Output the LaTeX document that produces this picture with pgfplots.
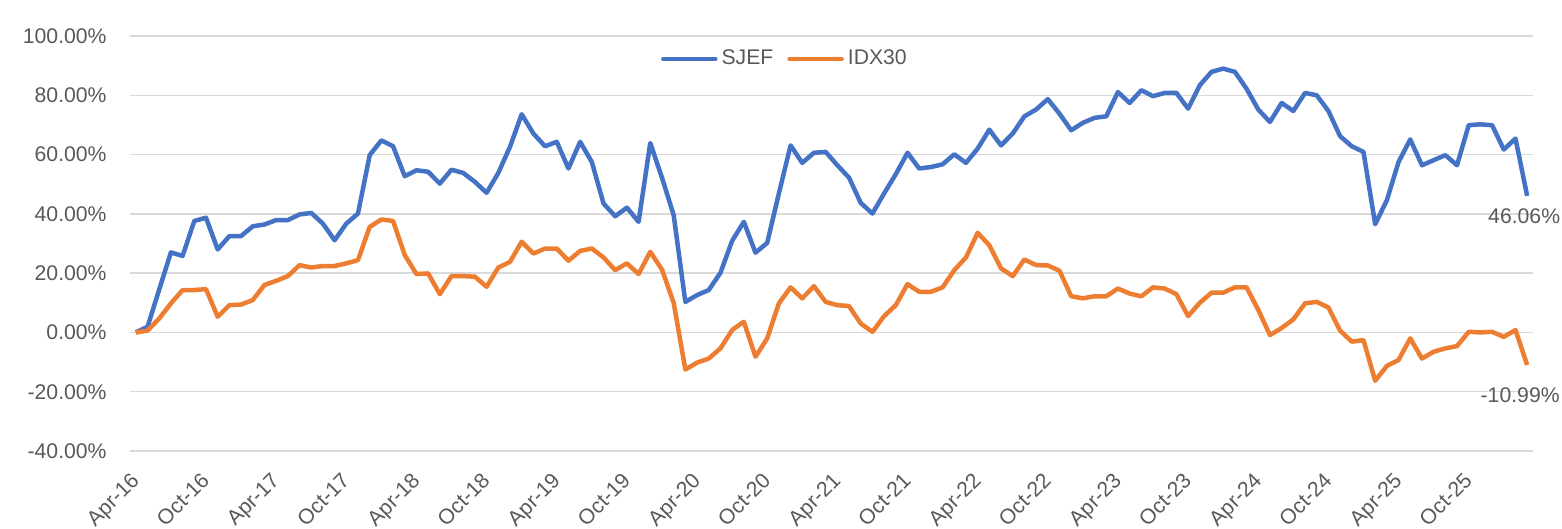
\documentclass[border=0pt]{standalone}
\usepackage{pgfplots}
\pgfplotsset{compat=1.18}
\usepackage{pgfplotstable}
\usepackage{fontspec}
\setmainfont{Liberation Sans}
\definecolor{sjef}{HTML}{4472C4}
\definecolor{idx}{HTML}{ED7D31}
\definecolor{gridc}{HTML}{D9D9D9}
\definecolor{txt}{HTML}{595959}

\pgfplotstableread{
i sjef idx
0 0 0
1 1.9 0.6
2 14.5 4.7
3 27.0 9.8
4 25.8 14.3
5 37.6 14.3
6 38.7 14.6
7 28.0 5.3
8 32.5 9.2
9 32.5 9.4
10 35.8 10.9
11 36.4 16.0
12 37.9 17.4
13 37.9 19.0
14 39.8 22.7
15 40.3 21.9
16 36.7 22.4
17 31.1 22.4
18 36.7 23.3
19 40.1 24.4
20 59.8 35.6
21 64.8 38.1
22 62.8 37.6
23 52.7 26.1
24 54.7 19.7
25 54.2 19.9
26 50.2 12.9
27 54.9 19.0
28 53.8 19.0
29 50.8 18.8
30 47.1 15.4
31 53.8 21.9
32 62.6 23.8
33 73.6 30.6
34 67.1 26.6
35 62.8 28.3
36 64.3 28.3
37 55.3 24.2
38 64.3 27.5
39 57.5 28.3
40 43.5 25.3
41 39.2 21.0
42 42.1 23.3
43 37.3 19.7
44 63.9 27.2
45 52.2 21.2
46 39.6 10.0
47 10.3 -12.5
48 12.6 -10.2
49 14.3 -8.8
50 20.1 -5.4
51 30.9 0.8
52 37.3 3.6
53 26.9 -8.2
54 30.2 -2.0
55 46.9 9.8
56 63.1 15.2
57 57.2 11.5
58 60.6 15.6
59 60.9 10.3
60 56.4 9.2
61 52.2 8.9
62 43.7 3.0
63 40.1 0.2
64 46.9 5.5
65 53.4 9.2
66 60.6 16.3
67 55.3 13.7
68 55.8 13.7
69 56.7 15.2
70 60.1 21.0
71 57.2 25.3
72 62.0 33.6
73 68.4 29.4
74 63.1 21.6
75 67.1 19.0
76 72.9 24.6
77 75.2 22.7
78 78.7 22.6
79 73.8 20.8
80 68.2 12.2
81 70.7 11.5
82 72.4 12.2
83 72.9 12.2
84 81.1 14.8
85 77.4 13.1
86 81.7 12.2
87 79.7 15.2
88 80.8 14.8
89 80.8 12.9
90 75.5 5.5
91 83.4 10.0
92 87.9 13.4
93 89.0 13.4
94 87.9 15.2
95 82.2 15.2
96 75.2 7.6
97 71.0 -0.9
98 77.4 1.5
99 74.7 4.4
100 80.8 9.8
101 80.0 10.3
102 74.7 8.4
103 66.2 0.6
104 62.8 -3.1
105 60.9 -2.6
106 36.5 -16.3
107 44.6 -11.3
108 57.5 -9.3
109 65.1 -2.0
110 56.4 -8.8
111 58.1 -6.5
112 59.8 -5.4
113 56.4 -4.6
114 69.9 0.2
115 70.2 0.0
116 69.9 0.2
117 61.7 -1.5
118 65.4 0.8
119 46.06 -10.99
}\data

\begin{document}
\begin{tikzpicture}
\begin{axis}[
  scale only axis, width=701.5pt, height=207.5pt,
  xmin=-0.5, xmax=119.5, ymin=-40, ymax=100,
  clip=false,
  axis line style={draw=none},
  major tick length=0pt,
  ymajorgrids, grid style={gridc, line width=0.7pt},
  ytick={-40,-20,0,20,40,60,80,100},
  yticklabels={-40.00\%,-20.00\%,0.00\%,20.00\%,40.00\%,60.00\%,80.00\%,100.00\%},
  xtick={0,6,...,114},
  xticklabels={Apr-16,Oct-16,Apr-17,Oct-17,Apr-18,Oct-18,Apr-19,Oct-19,Apr-20,Oct-20,Apr-21,Oct-21,Apr-22,Oct-22,Apr-23,Oct-23,Apr-24,Oct-24,Apr-25,Oct-25},
  tick label style={font=\fontsize{10.6}{12}\selectfont, text=txt},
  yticklabel style={anchor=east, inner sep=0pt, xshift=-11.5pt},
  xticklabel style={xshift=-3pt, yshift=-10pt, rotate=45, anchor=north east, inner sep=0pt},
  legend columns=2,
  legend style={at={(0.4675,0.9446)}, anchor=center, draw=none, fill=none,
    font=\fontsize{10.6}{12}\selectfont, text=txt,
    /tikz/every even column/.append style={column sep=5pt}},
  legend image code/.code={\draw[#1, line cap=round] (0pt,0pt) -- (26pt,0pt);},
]
\addplot[sjef, line width=2.25pt, line join=round] table[x=i, y=sjef] {\data};
\addlegendentry{SJEF}
\addplot[idx, line width=2.25pt, line join=round] table[x=i, y=idx] {\data};
\addlegendentry{IDX30}
\node[anchor=north, inner sep=0pt, text=txt, font=\fontsize{10.6}{12}\selectfont, xshift=-1.5pt, yshift=-6pt] at (axis cs:119,46.06) {46.06\%};
\node[anchor=north, inner sep=0pt, text=txt, font=\fontsize{10.6}{12}\selectfont, xshift=-3.5pt, yshift=-11pt] at (axis cs:119,-10.99) {-10.99\%};
\coordinate (sw) at (rel axis cs:0,0);
\coordinate (ne) at (rel axis cs:1,1);
\end{axis}
\pgfresetboundingbox
\path[use as bounding box] ([shift={(-65pt,-39pt)}]sw) rectangle ([shift={(14.5pt,18pt)}]ne);
\end{tikzpicture}
\end{document}
